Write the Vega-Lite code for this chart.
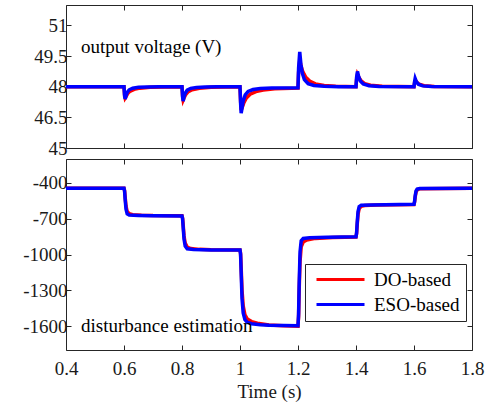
{
  "$schema": "https://vega.github.io/schema/vega-lite/v6.json",
  "padding": {"left": 5, "top": 4, "right": 5, "bottom": 5},
  "background": "white",
  "config": {
    "font": "Liberation Serif",
    "view": {"stroke": "#262626", "strokeWidth": 1},
    "axis": {"labelFont": "Liberation Serif", "labelFontSize": 19, "labelColor": "#1a1a1a", "tickColor": "#262626", "tickSize": -5, "domain": false, "grid": false, "labelFlush": false, "titleFont": "Liberation Serif", "titleFontSize": 19, "titleFontWeight": "normal", "titleColor": "#1a1a1a"},
    "legend": {"labelFont": "Liberation Serif", "labelFontSize": 19, "labelColor": "#000000"}
  },
  "spacing": -1,
  "datasets": {
    "volt": [
      {"t":0.4,"s":"DO-based","y":48},{"t":0.6,"s":"DO-based","y":48},{"t":0.602,"s":"DO-based","y":47.6},{"t":0.604,"s":"DO-based","y":47.45},{"t":0.607,"s":"DO-based","y":47.52},{"t":0.612,"s":"DO-based","y":47.65},{"t":0.62,"s":"DO-based","y":47.77},{"t":0.635,"s":"DO-based","y":47.87},{"t":0.655,"s":"DO-based","y":47.93},{"t":0.69,"s":"DO-based","y":47.97},{"t":0.74,"s":"DO-based","y":47.99},{"t":0.8,"s":"DO-based","y":47.99},{"t":0.802,"s":"DO-based","y":47.55},{"t":0.804,"s":"DO-based","y":47.35},{"t":0.807,"s":"DO-based","y":47.45},{"t":0.812,"s":"DO-based","y":47.6},{"t":0.82,"s":"DO-based","y":47.74},{"t":0.835,"s":"DO-based","y":47.85},{"t":0.86,"s":"DO-based","y":47.92},{"t":0.9,"s":"DO-based","y":47.97},{"t":0.95,"s":"DO-based","y":47.99},{"t":1.0,"s":"DO-based","y":47.99},{"t":1.002,"s":"DO-based","y":47.3},{"t":1.004,"s":"DO-based","y":46.85},{"t":1.008,"s":"DO-based","y":47.0},{"t":1.013,"s":"DO-based","y":47.2},{"t":1.022,"s":"DO-based","y":47.45},{"t":1.035,"s":"DO-based","y":47.63},{"t":1.055,"s":"DO-based","y":47.76},{"t":1.08,"s":"DO-based","y":47.84},{"t":1.12,"s":"DO-based","y":47.9},{"t":1.2,"s":"DO-based","y":47.93},{"t":1.202,"s":"DO-based","y":48.7},{"t":1.206,"s":"DO-based","y":49.3},{"t":1.21,"s":"DO-based","y":49.05},{"t":1.216,"s":"DO-based","y":48.75},{"t":1.226,"s":"DO-based","y":48.48},{"t":1.24,"s":"DO-based","y":48.28},{"t":1.26,"s":"DO-based","y":48.14},{"t":1.29,"s":"DO-based","y":48.06},{"t":1.33,"s":"DO-based","y":48.02},{"t":1.4,"s":"DO-based","y":48},{"t":1.402,"s":"DO-based","y":48.35},{"t":1.405,"s":"DO-based","y":48.6},{"t":1.41,"s":"DO-based","y":48.45},{"t":1.418,"s":"DO-based","y":48.28},{"t":1.43,"s":"DO-based","y":48.15},{"t":1.45,"s":"DO-based","y":48.07},{"t":1.49,"s":"DO-based","y":48.02},{"t":1.6,"s":"DO-based","y":48},{"t":1.602,"s":"DO-based","y":48.2},{"t":1.605,"s":"DO-based","y":48.3},{"t":1.61,"s":"DO-based","y":48.22},{"t":1.618,"s":"DO-based","y":48.12},{"t":1.635,"s":"DO-based","y":48.05},{"t":1.67,"s":"DO-based","y":48.01},{"t":1.8,"s":"DO-based","y":48},
      {"t":0.4,"s":"ESO-based","y":48},{"t":0.6,"s":"ESO-based","y":48},{"t":0.602,"s":"ESO-based","y":47.55},{"t":0.604,"s":"ESO-based","y":47.4},{"t":0.607,"s":"ESO-based","y":47.55},{"t":0.611,"s":"ESO-based","y":47.72},{"t":0.618,"s":"ESO-based","y":47.85},{"t":0.63,"s":"ESO-based","y":47.93},{"t":0.65,"s":"ESO-based","y":47.97},{"t":0.68,"s":"ESO-based","y":47.99},{"t":0.72,"s":"ESO-based","y":48},{"t":0.8,"s":"ESO-based","y":48},{"t":0.802,"s":"ESO-based","y":47.5},{"t":0.804,"s":"ESO-based","y":47.3},{"t":0.807,"s":"ESO-based","y":47.5},{"t":0.811,"s":"ESO-based","y":47.68},{"t":0.818,"s":"ESO-based","y":47.83},{"t":0.83,"s":"ESO-based","y":47.92},{"t":0.85,"s":"ESO-based","y":47.96},{"t":0.88,"s":"ESO-based","y":47.99},{"t":0.92,"s":"ESO-based","y":48},{"t":1.0,"s":"ESO-based","y":48},{"t":1.002,"s":"ESO-based","y":47.2},{"t":1.004,"s":"ESO-based","y":46.7},{"t":1.007,"s":"ESO-based","y":46.95},{"t":1.011,"s":"ESO-based","y":47.3},{"t":1.018,"s":"ESO-based","y":47.6},{"t":1.028,"s":"ESO-based","y":47.77},{"t":1.045,"s":"ESO-based","y":47.86},{"t":1.07,"s":"ESO-based","y":47.91},{"t":1.11,"s":"ESO-based","y":47.94},{"t":1.2,"s":"ESO-based","y":47.95},{"t":1.202,"s":"ESO-based","y":48.9},{"t":1.206,"s":"ESO-based","y":49.7},{"t":1.21,"s":"ESO-based","y":49.1},{"t":1.215,"s":"ESO-based","y":48.65},{"t":1.222,"s":"ESO-based","y":48.35},{"t":1.235,"s":"ESO-based","y":48.15},{"t":1.255,"s":"ESO-based","y":48.06},{"t":1.29,"s":"ESO-based","y":48.02},{"t":1.34,"s":"ESO-based","y":48},{"t":1.4,"s":"ESO-based","y":48},{"t":1.402,"s":"ESO-based","y":48.45},{"t":1.405,"s":"ESO-based","y":48.75},{"t":1.409,"s":"ESO-based","y":48.5},{"t":1.415,"s":"ESO-based","y":48.28},{"t":1.425,"s":"ESO-based","y":48.13},{"t":1.445,"s":"ESO-based","y":48.05},{"t":1.48,"s":"ESO-based","y":48.01},{"t":1.6,"s":"ESO-based","y":48},{"t":1.602,"s":"ESO-based","y":48.25},{"t":1.604,"s":"ESO-based","y":48.4},{"t":1.608,"s":"ESO-based","y":48.25},{"t":1.615,"s":"ESO-based","y":48.12},{"t":1.63,"s":"ESO-based","y":48.04},{"t":1.66,"s":"ESO-based","y":48.01},{"t":1.8,"s":"ESO-based","y":48}
    ],
    "dist": [
      {"t":0.4,"s":"DO-based","y":-445},{"t":0.6,"s":"DO-based","y":-445},{"t":0.602,"s":"DO-based","y":-465},{"t":0.604,"s":"DO-based","y":-520},{"t":0.607,"s":"DO-based","y":-595},{"t":0.611,"s":"DO-based","y":-640},{"t":0.618,"s":"DO-based","y":-658},{"t":0.63,"s":"DO-based","y":-666},{"t":0.66,"s":"DO-based","y":-671},{"t":0.7,"s":"DO-based","y":-674},{"t":0.8,"s":"DO-based","y":-676},{"t":0.802,"s":"DO-based","y":-695},{"t":0.804,"s":"DO-based","y":-750},{"t":0.807,"s":"DO-based","y":-845},{"t":0.811,"s":"DO-based","y":-905},{"t":0.818,"s":"DO-based","y":-938},{"t":0.83,"s":"DO-based","y":-950},{"t":0.86,"s":"DO-based","y":-957},{"t":0.9,"s":"DO-based","y":-961},{"t":1.0,"s":"DO-based","y":-963},{"t":1.002,"s":"DO-based","y":-990},{"t":1.004,"s":"DO-based","y":-1110},{"t":1.007,"s":"DO-based","y":-1300},{"t":1.011,"s":"DO-based","y":-1430},{"t":1.017,"s":"DO-based","y":-1505},{"t":1.025,"s":"DO-based","y":-1540},{"t":1.04,"s":"DO-based","y":-1562},{"t":1.06,"s":"DO-based","y":-1576},{"t":1.1,"s":"DO-based","y":-1590},{"t":1.15,"s":"DO-based","y":-1597},{"t":1.2,"s":"DO-based","y":-1600},{"t":1.202,"s":"DO-based","y":-1520},{"t":1.204,"s":"DO-based","y":-1300},{"t":1.207,"s":"DO-based","y":-1060},{"t":1.211,"s":"DO-based","y":-935},{"t":1.218,"s":"DO-based","y":-895},{"t":1.23,"s":"DO-based","y":-878},{"t":1.26,"s":"DO-based","y":-865},{"t":1.32,"s":"DO-based","y":-857},{"t":1.4,"s":"DO-based","y":-853},{"t":1.402,"s":"DO-based","y":-825},{"t":1.404,"s":"DO-based","y":-755},{"t":1.407,"s":"DO-based","y":-665},{"t":1.411,"s":"DO-based","y":-615},{"t":1.418,"s":"DO-based","y":-597},{"t":1.43,"s":"DO-based","y":-590},{"t":1.47,"s":"DO-based","y":-585},{"t":1.6,"s":"DO-based","y":-581},{"t":1.602,"s":"DO-based","y":-560},{"t":1.604,"s":"DO-based","y":-520},{"t":1.607,"s":"DO-based","y":-478},{"t":1.611,"s":"DO-based","y":-458},{"t":1.62,"s":"DO-based","y":-449},{"t":1.8,"s":"DO-based","y":-445},
      {"t":0.4,"s":"ESO-based","y":-445},{"t":0.6,"s":"ESO-based","y":-445},{"t":0.602,"s":"ESO-based","y":-470},{"t":0.604,"s":"ESO-based","y":-540},{"t":0.607,"s":"ESO-based","y":-620},{"t":0.611,"s":"ESO-based","y":-660},{"t":0.618,"s":"ESO-based","y":-670},{"t":0.65,"s":"ESO-based","y":-673},{"t":0.7,"s":"ESO-based","y":-675},{"t":0.8,"s":"ESO-based","y":-677},{"t":0.802,"s":"ESO-based","y":-700},{"t":0.804,"s":"ESO-based","y":-770},{"t":0.807,"s":"ESO-based","y":-870},{"t":0.811,"s":"ESO-based","y":-930},{"t":0.818,"s":"ESO-based","y":-952},{"t":0.84,"s":"ESO-based","y":-958},{"t":0.9,"s":"ESO-based","y":-962},{"t":1.0,"s":"ESO-based","y":-963},{"t":1.002,"s":"ESO-based","y":-1000},{"t":1.004,"s":"ESO-based","y":-1150},{"t":1.007,"s":"ESO-based","y":-1370},{"t":1.011,"s":"ESO-based","y":-1490},{"t":1.017,"s":"ESO-based","y":-1545},{"t":1.025,"s":"ESO-based","y":-1568},{"t":1.04,"s":"ESO-based","y":-1580},{"t":1.07,"s":"ESO-based","y":-1588},{"t":1.1,"s":"ESO-based","y":-1592},{"t":1.15,"s":"ESO-based","y":-1595},{"t":1.2,"s":"ESO-based","y":-1597},{"t":1.202,"s":"ESO-based","y":-1500},{"t":1.204,"s":"ESO-based","y":-1250},{"t":1.207,"s":"ESO-based","y":-980},{"t":1.211,"s":"ESO-based","y":-885},{"t":1.218,"s":"ESO-based","y":-866},{"t":1.24,"s":"ESO-based","y":-860},{"t":1.3,"s":"ESO-based","y":-856},{"t":1.4,"s":"ESO-based","y":-852},{"t":1.402,"s":"ESO-based","y":-820},{"t":1.404,"s":"ESO-based","y":-740},{"t":1.407,"s":"ESO-based","y":-640},{"t":1.411,"s":"ESO-based","y":-598},{"t":1.418,"s":"ESO-based","y":-588},{"t":1.45,"s":"ESO-based","y":-585},{"t":1.6,"s":"ESO-based","y":-580},{"t":1.602,"s":"ESO-based","y":-555},{"t":1.604,"s":"ESO-based","y":-510},{"t":1.607,"s":"ESO-based","y":-468},{"t":1.611,"s":"ESO-based","y":-452},{"t":1.62,"s":"ESO-based","y":-447},{"t":1.8,"s":"ESO-based","y":-445}
    ]
  },
  "vconcat": [
    {
      "width": 406,
      "height": 143,
      "layer": [
        {
          "data": {"name": "volt"},
          "transform": [{"filter": "datum.s === 'DO-based'"}],
          "mark": {"type": "line", "strokeWidth": 3.5, "color": "#ff0000", "clip": true},
          "encoding": {
            "x": {"field": "t", "type": "quantitative", "scale": {"domain": [0.4, 1.8], "nice": false, "zero": false},
                  "axis": {"orient": "bottom", "labels": false, "title": null, "values": [0.4, 0.6, 0.8, 1, 1.2, 1.4, 1.6, 1.8], "minExtent": 0, "maxExtent": 0}},
            "y": {"field": "y", "type": "quantitative", "scale": {"domain": [45, 52], "nice": false, "zero": false},
                  "axis": {"orient": "left", "title": null, "values": [45, 46.5, 48, 49.5, 51], "labelExpr": "toString(datum.value)", "labelPadding": 4, "minExtent": 60, "maxExtent": 60}}
          }
        },
        {
          "data": {"name": "volt"},
          "transform": [{"filter": "datum.s === 'ESO-based'"}],
          "mark": {"type": "line", "strokeWidth": 3.5, "color": "#0000ff", "clip": true},
          "encoding": {
            "x": {"field": "t", "type": "quantitative",
                  "axis": {"orient": "top", "labels": false, "title": null, "values": [0.4, 0.6, 0.8, 1, 1.2, 1.4, 1.6, 1.8], "minExtent": 0, "maxExtent": 0}},
            "y": {"field": "y", "type": "quantitative",
                  "axis": {"orient": "right", "labels": false, "title": null, "values": [45, 46.5, 48, 49.5, 51], "minExtent": 0, "maxExtent": 0}}
          }
        },
        {
          "data": {"values": [{"label": "output voltage (V)"}]},
          "mark": {"type": "text", "align": "left", "baseline": "alphabetic", "fontSize": 19, "font": "Liberation Serif", "color": "#000000"},
          "encoding": {
            "x": {"datum": 0.452, "type": "quantitative", "axis": null},
            "y": {"datum": 49.65, "type": "quantitative", "axis": null},
            "text": {"field": "label"}
          }
        }
      ],
      "resolve": {"axis": {"x": "independent", "y": "independent"}}
    },
    {
      "width": 406,
      "height": 191,
      "layer": [
        {
          "data": {"name": "dist"},
          "transform": [{"filter": "datum.s === 'DO-based'"}],
          "mark": {"type": "line", "strokeWidth": 3.5, "clip": true},
          "encoding": {
            "x": {"field": "t", "type": "quantitative", "scale": {"domain": [0.4, 1.8], "nice": false, "zero": false},
                  "axis": {"orient": "bottom", "title": "Time (s)", "values": [0.4, 0.6, 0.8, 1, 1.2, 1.4, 1.6, 1.8], "labelExpr": "toString(datum.value)", "labelPadding": 14, "titlePadding": 4}},
            "y": {"field": "y", "type": "quantitative", "scale": {"domain": [-1800, -200], "nice": false, "zero": false},
                  "axis": {"orient": "left", "title": null, "values": [-1600, -1300, -1000, -700, -400], "labelExpr": "toString(datum.value)", "labelPadding": 4, "minExtent": 60, "maxExtent": 60}},
            "color": {"field": "s", "type": "nominal", "scale": {"domain": ["DO-based", "ESO-based"], "range": ["#ff0000", "#0000ff"]},
                      "legend": {"title": null, "orient": "none", "legendX": 239, "legendY": 259, "fillColor": "white", "strokeColor": "#262626", "padding": 6, "rowPadding": 5, "symbolType": "M-4,0H4", "symbolSize": 144, "symbolStrokeWidth": 3, "symbolOffset": 20, "labelOffset": 24}}
          }
        },
        {
          "data": {"name": "dist"},
          "transform": [{"filter": "datum.s === 'ESO-based'"}],
          "mark": {"type": "line", "strokeWidth": 3.5, "clip": true},
          "encoding": {
            "x": {"field": "t", "type": "quantitative",
                  "axis": {"orient": "top", "labels": false, "title": null, "values": [0.4, 0.6, 0.8, 1, 1.2, 1.4, 1.6, 1.8], "minExtent": 0, "maxExtent": 0}},
            "y": {"field": "y", "type": "quantitative",
                  "axis": {"orient": "right", "labels": false, "title": null, "values": [-1600, -1300, -1000, -700, -400], "minExtent": 0, "maxExtent": 0}},
            "color": {"field": "s", "type": "nominal", "scale": {"domain": ["DO-based", "ESO-based"], "range": ["#ff0000", "#0000ff"]},
                      "legend": {"title": null, "orient": "none", "legendX": 239, "legendY": 259, "fillColor": "white", "strokeColor": "#262626", "padding": 6, "rowPadding": 5, "symbolType": "M-4,0H4", "symbolSize": 144, "symbolStrokeWidth": 3, "symbolOffset": 20, "labelOffset": 24}}
          }
        },
        {
          "data": {"values": [{"label": "disturbance estimation"}]},
          "mark": {"type": "text", "align": "left", "baseline": "alphabetic", "fontSize": 19, "font": "Liberation Serif", "color": "#000000"},
          "encoding": {
            "x": {"datum": 0.452, "type": "quantitative", "axis": null},
            "y": {"datum": -1653, "type": "quantitative", "axis": null},
            "text": {"field": "label"}
          }
        }
      ],
      "resolve": {"axis": {"x": "independent", "y": "independent"}}
    }
  ]
}
